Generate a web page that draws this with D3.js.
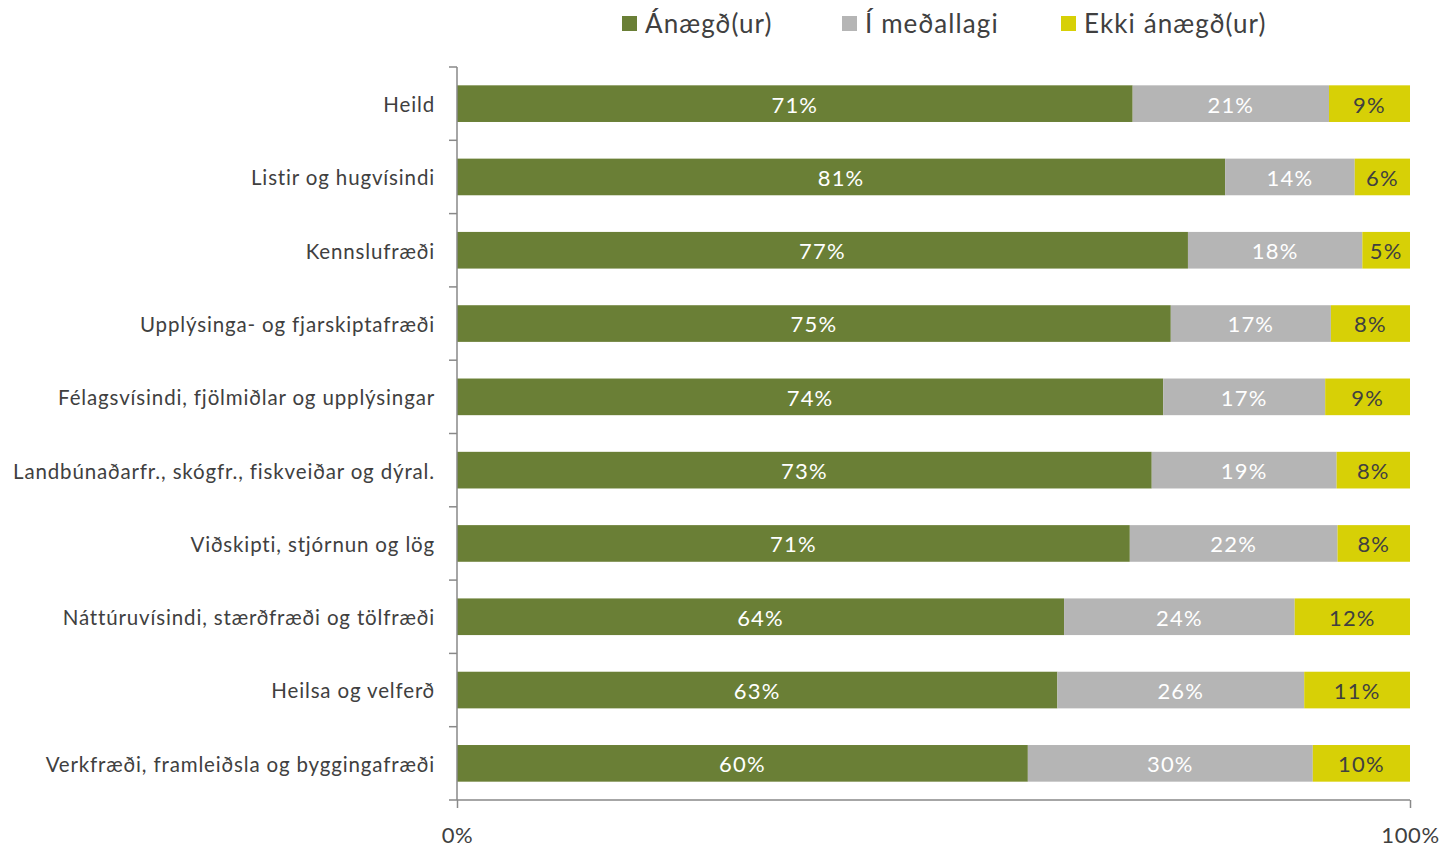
<!DOCTYPE html>
<html>
<head>
<meta charset="utf-8">
<script src="https://cdn.jsdelivr.net/npm/d3@7"></script>
<style>
  body { margin: 0; background: #fff; }
  svg { font-family: Lato, "Open Sans", sans-serif; }
</style>
</head>
<body>
<div id="svg-area"></div>
<script>
const width = 1443;
const height = 847;
const margin = {top: 67, left: 457, bottom: 47, right: 33};

// categories, top to bottom
const categories = [
  'Heild',
  'Listir og hugvísindi',
  'Kennslufræði',
  'Upplýsinga- og fjarskiptafræði',
  'Félagsvísindi, fjölmiðlar og upplýsingar',
  'Landbúnaðarfr., skógfr., fiskveiðar og dýral.',
  'Viðskipti, stjórnun og lög',
  'Náttúruvísindi, stærðfræði og tölfræði',
  'Heilsa og velferð',
  'Verkfræði, framleiðsla og byggingafræði'
];

// shares in percent
const satisfied = [70.9, 80.6, 76.7, 74.9, 74.1, 72.9, 70.6, 63.7, 63.0, 59.9];
const neutral   = [20.6, 13.6, 18.3, 16.8, 17.0, 19.4, 21.8, 24.2, 25.9, 29.9];
const unhappy   = [8.5, 5.8, 5.0, 8.3, 8.9, 7.7, 7.6, 12.1, 11.1, 10.2];

// labels as printed on the bars
const satisfiedLabels = ['71%', '81%', '77%', '75%', '74%', '73%', '71%', '64%', '63%', '60%'];
const neutralLabels   = ['21%', '14%', '18%', '17%', '17%', '19%', '22%', '24%', '26%', '30%'];
const unhappyLabels   = ['9%', '6%', '5%', '8%', '9%', '8%', '8%', '12%', '11%', '10%'];

const seriesNames = ['Ánægð(ur)', 'Í meðallagi', 'Ekki ánægð(ur)'];
const colors = ['#6a7f36', '#b5b5b5', '#d7d006'];
const textColors = ['#ffffff', '#ffffff', '#404040'];

const xTicks = [0, 100];
const xTickLabels = ['0%', '100%'];

const rows = categories.map((c, i) => ({
  name: c,
  values: [satisfied[i], neutral[i], unhappy[i]],
  labels: [satisfiedLabels[i], neutralLabels[i], unhappyLabels[i]]
}));

const x = d3.scaleLinear()
  .domain([0, 100])
  .range([margin.left, width - margin.right]);

const y = d3.scaleBand()
  .domain(categories)
  .range([margin.top, height - margin.bottom])
  .paddingInner(0.5)
  .paddingOuter(0.25);

const svg = d3.select('#svg-area').append('svg')
  .attr('width', width)
  .attr('height', height);

// stacked segments
const segs = [];
rows.forEach(r => {
  let acc = 0;
  r.values.forEach((v, k) => {
    segs.push({name: r.name, x0: acc, x1: acc + v, k: k, label: r.labels[k]});
    acc += v;
  });
});

svg.append('g')
  .selectAll('rect').data(segs).enter().append('rect')
  .attr('x', d => x(d.x0))
  .attr('y', d => y(d.name))
  .attr('width', d => x(d.x1) - x(d.x0))
  .attr('height', y.bandwidth())
  .attr('fill', d => colors[d.k]);

svg.append('g')
  .selectAll('text').data(segs).enter().append('text')
  .attr('x', d => (x(d.x0) + x(d.x1)) / 2)
  .attr('y', d => y(d.name) + y.bandwidth() / 2 + 1)
  .attr('dy', '0.36em')
  .attr('text-anchor', 'middle')
  .style('font-size', '22px')
  .style('letter-spacing', '1.2px')
  .style('fill', d => textColors[d.k])
  .text(d => d.label);

// y axis: ticks on band boundaries
const step = y.step();
const yAxisG = svg.append('g');
yAxisG.append('line')
  .attr('x1', x(0)).attr('x2', x(0))
  .attr('y1', margin.top).attr('y2', height - margin.bottom)
  .attr('stroke', '#898989').attr('stroke-width', 1.5);
yAxisG.selectAll('.tick').data(categories).enter().append('line')
  .attr('x1', x(0) - 8).attr('x2', x(0))
  .attr('y1', d => y(d) - step * 0.25)
  .attr('y2', d => y(d) - step * 0.25)
  .attr('stroke', '#898989').attr('stroke-width', 1.5);
yAxisG.selectAll('text').data(categories).enter().append('text')
  .attr('x', x(0) - 22)
  .attr('y', d => y(d) + y.bandwidth() / 2 + 1)
  .attr('dy', '0.36em')
  .attr('text-anchor', 'end')
  .style('font-size', '20.5px')
  .style('letter-spacing', '0.85px')
  .style('fill', '#404040')
  .text(d => d);

// x axis
const xAxis = g => g
  .attr('transform', `translate(0, ${height - margin.bottom})`)
  .call(d3.axisBottom(x)
    .tickValues(xTicks)
    .tickFormat((d, i) => xTickLabels[i])
    .tickSize(8)
    .tickSizeOuter(0)
    .tickPadding(19))
  .call(g => g.select('.domain').attr('stroke', '#898989').attr('stroke-width', 1.5)
    .attr('d', `M${x(0) - 8},0H${x(100)}`))
  .call(g => g.selectAll('line').attr('stroke', '#898989').attr('stroke-width', 1.5))
  .call(g => g.selectAll('text')
    .style('font-family', 'Lato, "Open Sans", sans-serif')
    .style('font-size', '22px')
    .style('letter-spacing', '0.6px')
    .style('fill', '#404040'));

svg.append('g').call(xAxis);

// legend
const legendX = [622, 842, 1061];
const legend = svg.append('g');
legend.selectAll('rect').data(seriesNames).enter().append('rect')
  .attr('x', (d, i) => legendX[i])
  .attr('y', 16)
  .attr('width', 15)
  .attr('height', 15)
  .attr('fill', (d, i) => colors[i]);
legend.selectAll('text').data(seriesNames).enter().append('text')
  .attr('x', (d, i) => legendX[i] + 23)
  .attr('y', 24)
  .attr('dy', '0.36em')
  .style('font-size', '26px')
  .style('letter-spacing', '1.1px')
  .style('fill', '#404040')
  .text(d => d);
</script>
</body>
</html>
